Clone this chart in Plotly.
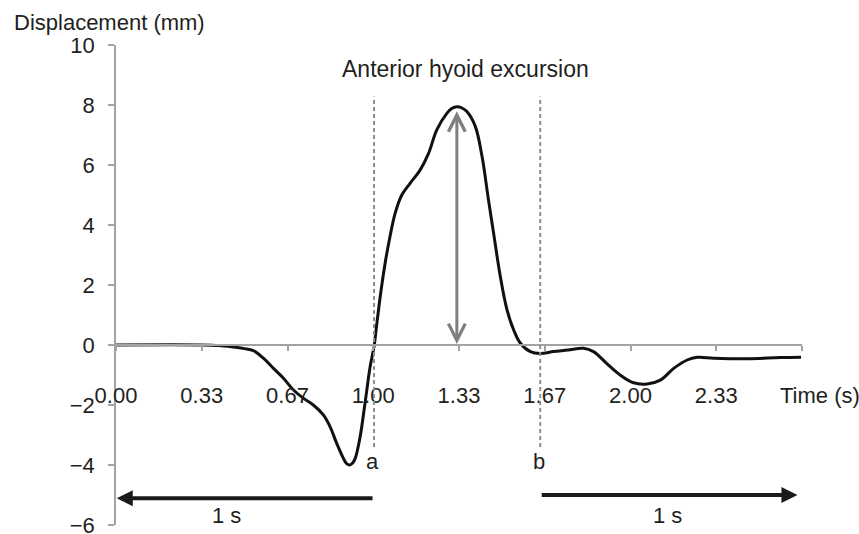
import plotly.graph_objects as go

# ---- data ----
time_s = [0.00, 0.333, 0.40, 0.456, 0.50, 0.534, 0.573, 0.612, 0.651, 0.690, 0.729,
          0.767, 0.806, 0.832, 0.858, 0.884, 0.896, 0.908, 0.920, 0.930, 0.949, 0.968, 0.988,
          1.004, 1.011, 1.027, 1.046, 1.065, 1.085, 1.111, 1.143, 1.182, 1.215,
          1.247, 1.286, 1.305, 1.325, 1.345, 1.364, 1.397, 1.423, 1.448, 1.468, 1.494, 1.520,
          1.546, 1.572, 1.611, 1.649, 1.701, 1.757, 1.817, 1.856, 1.907, 1.960,
          2.012, 2.064, 2.116, 2.168, 2.220, 2.259, 2.324, 2.454, 2.583, 2.663]
displacement_mm = [0.0, 0.0, -0.02, -0.07, -0.12, -0.19, -0.44, -0.78, -1.11, -1.5, -1.78,
                   -2.0, -2.33, -2.72, -3.28, -3.78, -3.95, -4.0, -3.93, -3.78, -3.06, -1.94, -0.72,
                   0.0, 0.5, 1.61, 2.72, 3.61, 4.39, 5.0, 5.39, 5.83, 6.39,
                   7.17, 7.72, 7.88, 7.94, 7.9, 7.78, 7.28, 6.28, 4.83, 3.72, 2.28, 1.17,
                   0.5, 0.06, -0.22, -0.28, -0.22, -0.17, -0.11, -0.22, -0.61, -1.0,
                   -1.26, -1.3, -1.17, -0.78, -0.5, -0.41, -0.44, -0.46, -0.42, -0.41]

x_tick_vals = [0, 1/3, 2/3, 1.0, 4/3, 5/3, 2.0, 7/3, 8/3]
x_tick_text = ["0.00", "0.33", "0.67", "1.00", "1.33", "1.67", "2.00", "2.33", ""]
y_tick_vals = [-6, -4, -2, 0, 2, 4, 6, 8, 10]
y_tick_text = ["\u22126", "\u22124", "\u22122", "0", "2", "4", "6", "8", "10"]

onset_time = 1.003      # event "a"
offset_time = 1.649     # event "b"
window_s = 1.0          # "1 s" windows
marker_top = 8.28
marker_bottom = -3.4
label_y = -3.87
window_arrow_y_left = -5.11
window_arrow_y_right = -5.0
window_label_y = -5.67

FONT = "Liberation Sans, Arial, sans-serif"
TXT = "#231f20"
AXIS = "#a3a3a3"
FS = 22

peak_val = max(displacement_mm)
peak_time = time_s[displacement_mm.index(peak_val)]

fig = go.Figure()
fig.add_trace(go.Scatter(
    x=time_s, y=displacement_mm, mode="lines",
    line=dict(color="#111111", width=3, shape="spline", smoothing=1.0),
    showlegend=False, hoverinfo="skip"))

# dashed event markers
for t in (onset_time, offset_time):
    fig.add_shape(type="line", xref="x", yref="y", x0=t, x1=t,
                  y0=marker_bottom, y1=marker_top,
                  line=dict(color="#8f8f8f", width=2, dash="4px,3px"))

ann = []
# amplitude double arrow
ann.append(dict(x=peak_time, y=0.03, ax=peak_time, ay=peak_val - 0.1,
                xref="x", yref="y", axref="x", ayref="y", text="",
                showarrow=True, arrowhead=5, startarrowhead=5, arrowside="end+start",
                arrowwidth=3, arrowsize=1.1, startarrowsize=1.1, arrowcolor="#7f7f7f"))
# 1 s windows
ann.append(dict(x=onset_time - window_s, y=window_arrow_y_left, ax=onset_time, ay=window_arrow_y_left,
                xref="x", yref="y", axref="x", ayref="y", text="",
                showarrow=True, arrowhead=2, arrowwidth=4, arrowsize=0.8, arrowcolor="#1a1a1a"))
ann.append(dict(x=offset_time + window_s, y=window_arrow_y_right, ax=offset_time, ay=window_arrow_y_right,
                xref="x", yref="y", axref="x", ayref="y", text="",
                showarrow=True, arrowhead=2, arrowwidth=4, arrowsize=0.8, arrowcolor="#1a1a1a"))
# texts
ann.append(dict(x=0.428, y=window_label_y, xref="x", yref="y", text="1 s", showarrow=False,
                font=dict(family=FONT, size=FS, color=TXT)))
ann.append(dict(x=2.142, y=window_label_y, xref="x", yref="y", text="1 s", showarrow=False,
                font=dict(family=FONT, size=FS, color=TXT)))
ann.append(dict(x=onset_time - 0.006, y=label_y, xref="x", yref="y", text="a", showarrow=False,
                font=dict(family=FONT, size=FS, color=TXT)))
ann.append(dict(x=offset_time - 0.004, y=label_y, xref="x", yref="y", text="b", showarrow=False,
                font=dict(family=FONT, size=FS, color=TXT)))
ann.append(dict(x=1.357, y=9.2, xref="x", yref="y", text="Anterior hyoid excursion", showarrow=False,
                font=dict(family=FONT, size=23, color=TXT)))
ann.append(dict(x=2.574, y=-1.67, xref="x", yref="y", text="Time (s)", showarrow=False,
                xanchor="left", font=dict(family=FONT, size=FS, color=TXT)))
ann.append(dict(x=-0.152, y=1.047, xref="paper", yref="paper", text="Displacement (mm)",
                showarrow=False, xanchor="left", yanchor="middle",
                font=dict(family=FONT, size=22, color=TXT)))

fig.update_layout(
    width=859, height=534,
    margin=dict(l=116, r=57, t=45, b=9, autoexpand=False),
    paper_bgcolor="white", plot_bgcolor="white",
    font=dict(family=FONT, size=FS, color=TXT),
    annotations=ann,
    xaxis=dict(range=[0, 8/3], anchor="free", position=0.375, automargin=False,
               showgrid=False, zeroline=False, showline=True, linecolor=AXIS, linewidth=1.5,
               ticks="outside", ticklen=5, tickcolor=AXIS, tickwidth=1.5,
               tickmode="array", tickvals=x_tick_vals, ticktext=x_tick_text,
               ticklabelstandoff=26, ticklabeloverflow="allow",
               tickfont=dict(family=FONT, size=FS, color=TXT)),
    yaxis=dict(range=[-6, 10], automargin=False, showgrid=False, zeroline=False, showline=True,
               linecolor=AXIS, linewidth=1.5,
               ticks="outside", ticklen=6, tickcolor=AXIS, tickwidth=1.5,
               tickmode="array", tickvals=y_tick_vals, ticktext=y_tick_text,
               ticklabelstandoff=9, ticklabeloverflow="allow",
               tickfont=dict(family=FONT, size=FS, color=TXT)),
)

fig.write_html("out.html")
